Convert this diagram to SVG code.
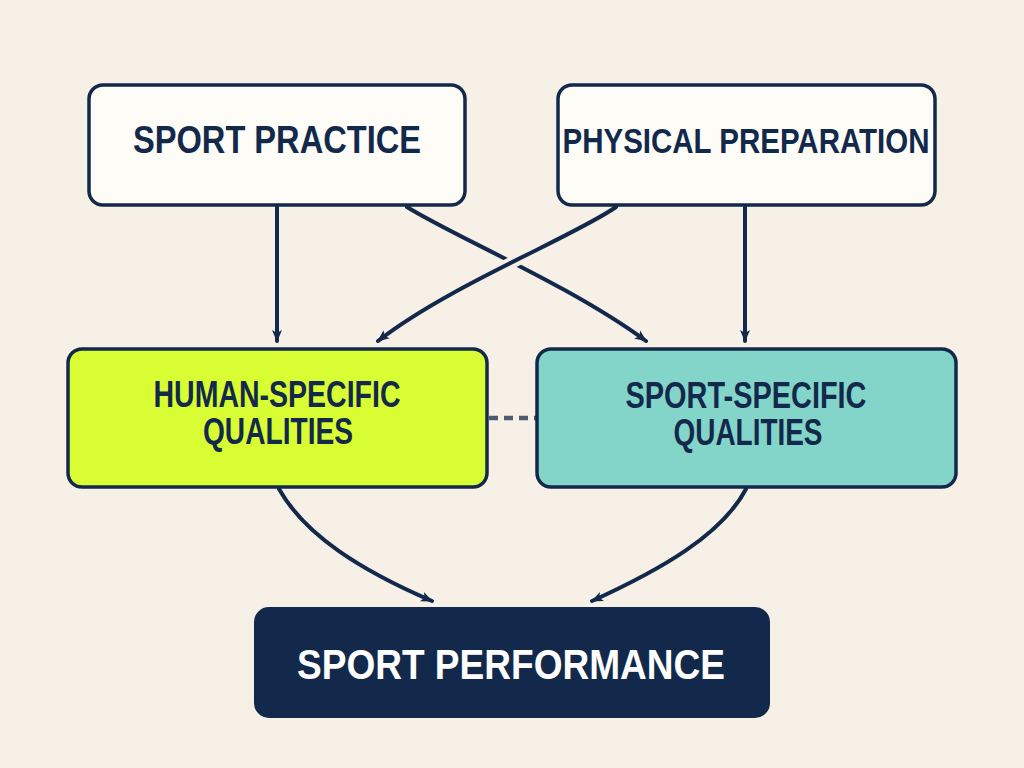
<svg xmlns="http://www.w3.org/2000/svg" width="1024" height="768" viewBox="0 0 1024 768">
<defs>
<style>
.box{stroke:#13294b;stroke-width:3.5}
.lbl{font-family:"Liberation Sans Narrow","Liberation Sans",Arial,sans-serif;font-weight:bold;fill:#13294b;text-anchor:middle}
.conn{fill:none;stroke:#13294b;stroke-width:4;stroke-linecap:round}
</style>
<marker id="ah" viewBox="0 0 12 12" refX="11" refY="6" markerWidth="12" markerHeight="12" markerUnits="userSpaceOnUse" orient="auto">
<path d="M0,1 L12,6 L0,11 L3,6 z" fill="#13294b"/>
</marker>
</defs>
<rect width="1024" height="768" fill="#f6f0e7"/>

<g id="connectors">
<path class="conn" d="M277,207 L277,341" marker-end="url(#ah)"/>
<path class="conn" d="M745,207 L745,341" marker-end="url(#ah)"/>
<path class="conn" d="M407,207 C455,237 570,285 646,341" marker-end="url(#ah)"/>
<line x1="524" y1="256.5" x2="500" y2="268.5" stroke="#f6f0e7" stroke-width="12"/>
<path class="conn" d="M616,207 C575,236 450,285 378,341" marker-end="url(#ah)"/>
<path class="conn" d="M279,489 C305,535 360,570 432,601" marker-end="url(#ah)"/>
<path class="conn" d="M746,489 C722,535 660,570 592,601" marker-end="url(#ah)"/>
<line x1="489" y1="418" x2="536" y2="418" stroke="#4b5b72" stroke-width="4.5" stroke-dasharray="9,6"/>
</g>

<g id="sport-practice">
<rect class="box" x="89" y="85" width="376" height="120" rx="14" fill="#fdfcf6"/>
<text class="lbl" x="277" y="153" font-size="39" textLength="288" lengthAdjust="spacingAndGlyphs">SPORT PRACTICE</text>
</g>

<g id="physical-preparation">
<rect class="box" x="558" y="85" width="377" height="120" rx="14" fill="#fdfcf6"/>
<text class="lbl" x="746" y="153" font-size="35" textLength="367" lengthAdjust="spacingAndGlyphs">PHYSICAL PREPARATION</text>
</g>

<g id="human-specific">
<rect class="box" x="68" y="349" width="419" height="138" rx="14" fill="#d8fd33"/>
<text class="lbl" x="277" y="407" font-size="36" textLength="247" lengthAdjust="spacingAndGlyphs">HUMAN-SPECIFIC</text>
<text class="lbl" x="278" y="444" font-size="36" textLength="150" lengthAdjust="spacingAndGlyphs">QUALITIES</text>
</g>

<g id="sport-specific">
<rect class="box" x="537" y="349" width="419" height="138" rx="14" fill="#83d5c9"/>
<text class="lbl" x="746" y="408" font-size="36" textLength="241" lengthAdjust="spacingAndGlyphs">SPORT-SPECIFIC</text>
<text class="lbl" x="748" y="445" font-size="36" textLength="149" lengthAdjust="spacingAndGlyphs">QUALITIES</text>
</g>

<g id="sport-performance">
<rect x="255" y="608" width="514" height="109" rx="14" fill="#13294b" stroke="#13294b" stroke-width="2"/>
<text class="lbl" x="511" y="679" font-size="43" style="fill:#ffffff" textLength="428" lengthAdjust="spacingAndGlyphs">SPORT PERFORMANCE</text>
</g>
</svg>
